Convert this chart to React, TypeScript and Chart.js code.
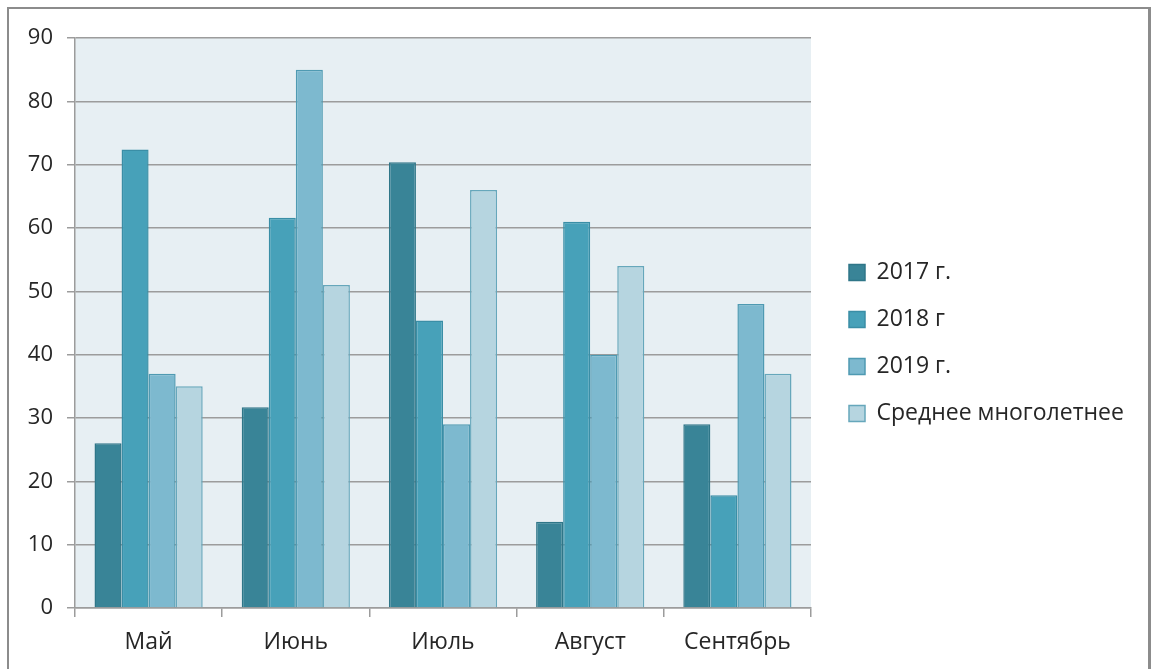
import { useEffect, useRef } from "react";
import { Chart, registerables } from "chart.js";

Chart.register(...registerables);

// Monthly values by year, plus the long-term average
const months = ["Май", "Июнь", "Июль", "Август", "Сентябрь"];
const seriesNames = ["2017 г.", "2018 г", "2019 г.", "Среднее многолетнее"];
const values2017 = [26, 31.7, 70.4, 13.6, 29];
const values2018 = [72.4, 61.6, 45.4, 61, 17.8];
const values2019 = [37, 85, 29, 40, 48];
const valuesLongTerm = [35, 51, 66, 54, 37];
const yMin = 0;
const yMax = 90;
const yStep = 10;

const fills = ["#398497", "#47a1b9", "#7db9cf", "#b6d5e0"];
const edges = ["#2f7688", "#3a8ea6", "#4f9ab2", "#66a7bb"];

const FONT = "'Open Sans', 'DejaVu Sans', sans-serif";
const AXIS_FONT_SIZE = 22;
const LABEL_FONT_SIZE = 23;
const TEXT = "#262626";
const GRID = "#9c9c9c";

const CANVAS_W = 1139;
const CANVAS_H = 660;
const PLOT_RIGHT = 802;
const LEGEND_GAP = 14;
const LEGEND_BOX = 16;
const LEGEND_PAD = 24;

// Light panel behind the plot area
const plotBackground = {
  id: "plotBackground",
  beforeDraw(chart: any) {
    const { ctx, chartArea } = chart;
    if (!chartArea) return;
    ctx.save();
    ctx.fillStyle = "#e7eff3";
    ctx.fillRect(chartArea.left, chartArea.top, chartArea.width, chartArea.height);
    ctx.restore();
  },
};

// Legend column width, and the right padding that makes the plot end at PLOT_RIGHT
function legendMetrics() {
  const probe = document.createElement("canvas").getContext("2d");
  let widest = 0;
  if (probe) {
    probe.font = `${LABEL_FONT_SIZE}px ${FONT}`;
    for (const s of seriesNames) widest = Math.max(widest, probe.measureText(s).width);
  }
  const width = LEGEND_PAD + LEGEND_BOX + LABEL_FONT_SIZE / 2 + widest + 10;
  const padRight = Math.max(0, CANVAS_W - PLOT_RIGHT - LEGEND_GAP - width);
  return { width, padRight };
}

export default function App() {
  const canvasRef = useRef<HTMLCanvasElement | null>(null);

  useEffect(() => {
    const canvas = canvasRef.current;
    if (!canvas) return;
    const seriesValues = [values2017, values2018, values2019, valuesLongTerm];
    const legend = legendMetrics();
    const chart = new Chart(canvas, {
      type: "bar",
      data: {
        labels: months,
        datasets: seriesNames.map((name, i) => ({
          label: name,
          data: seriesValues[i],
          backgroundColor: fills[i],
          borderColor: edges[i],
          borderWidth: 1.5,
          categoryPercentage: 0.735,
          barPercentage: 1,
        })),
      },
      options: {
        responsive: false,
        animation: false,
        devicePixelRatio: 1,
        layout: { padding: { top: 9, bottom: 1, left: 0, right: legend.padRight } },
        plugins: {
          tooltip: { enabled: false },
          legend: {
            position: "right",
            align: "center",
            maxWidth: Math.ceil(legend.width) + 40,
            labels: {
              boxWidth: LEGEND_BOX,
              boxHeight: LEGEND_BOX,
              padding: LEGEND_PAD,
              color: TEXT,
              font: { family: FONT, size: LABEL_FONT_SIZE },
            },
          },
        },
        scales: {
          x: {
            type: "category",
            offset: true,
            grid: {
              display: true,
              offset: true,
              drawOnChartArea: false,
              drawTicks: true,
              tickLength: 9,
              color: GRID,
              lineWidth: 1.5,
            },
            border: { display: true, color: GRID, width: 1.5 },
            ticks: {
              color: TEXT,
              font: { family: FONT, size: LABEL_FONT_SIZE },
              padding: 12,
              maxRotation: 0,
            },
            afterFit(scale: any) {
              scale.height = 60;
            },
          },
          // blank band above the plot area
          topBand: {
            type: "category",
            position: "top",
            display: true,
            grid: { display: false, drawOnChartArea: false },
            border: { display: false },
            ticks: { display: false },
            afterFit(scale: any) {
              scale.height = 20;
            },
          },
          y: {
            position: "left",
            min: yMin,
            max: yMax,
            grid: {
              color: GRID,
              lineWidth: 1.5,
              tickLength: 8,
              drawTicks: true,
            },
            border: { display: true, color: GRID, width: 1.5 },
            ticks: {
              stepSize: yStep,
              color: TEXT,
              font: { family: FONT, size: AXIS_FONT_SIZE },
              padding: 14,
            },
            afterFit(scale: any) {
              scale.width = 66;
            },
          },
          // spacer between the plot area and the legend
          gap: {
            type: "linear",
            position: "right",
            display: true,
            grid: { display: false, drawOnChartArea: false },
            border: { display: false },
            ticks: { display: false },
            afterFit(scale: any) {
              scale.width = LEGEND_GAP;
            },
          },
        },
      },
      plugins: [plotBackground],
    } as any);
    return () => chart.destroy();
  }, []);

  return (
    <div
      style={{
        position: "fixed",
        left: 7,
        top: 7,
        width: 1144,
        height: 662,
        boxSizing: "border-box",
        borderTop: "2px solid #8c8c8c",
        borderLeft: "2px solid #8c8c8c",
        borderRight: "3px solid #8c8c8c",
        borderBottom: "none",
        background: "#ffffff",
      }}
    >
      <canvas
        ref={canvasRef}
        width={CANVAS_W}
        height={CANVAS_H}
        style={{ display: "block", width: CANVAS_W, height: CANVAS_H }}
      />
    </div>
  );
}
